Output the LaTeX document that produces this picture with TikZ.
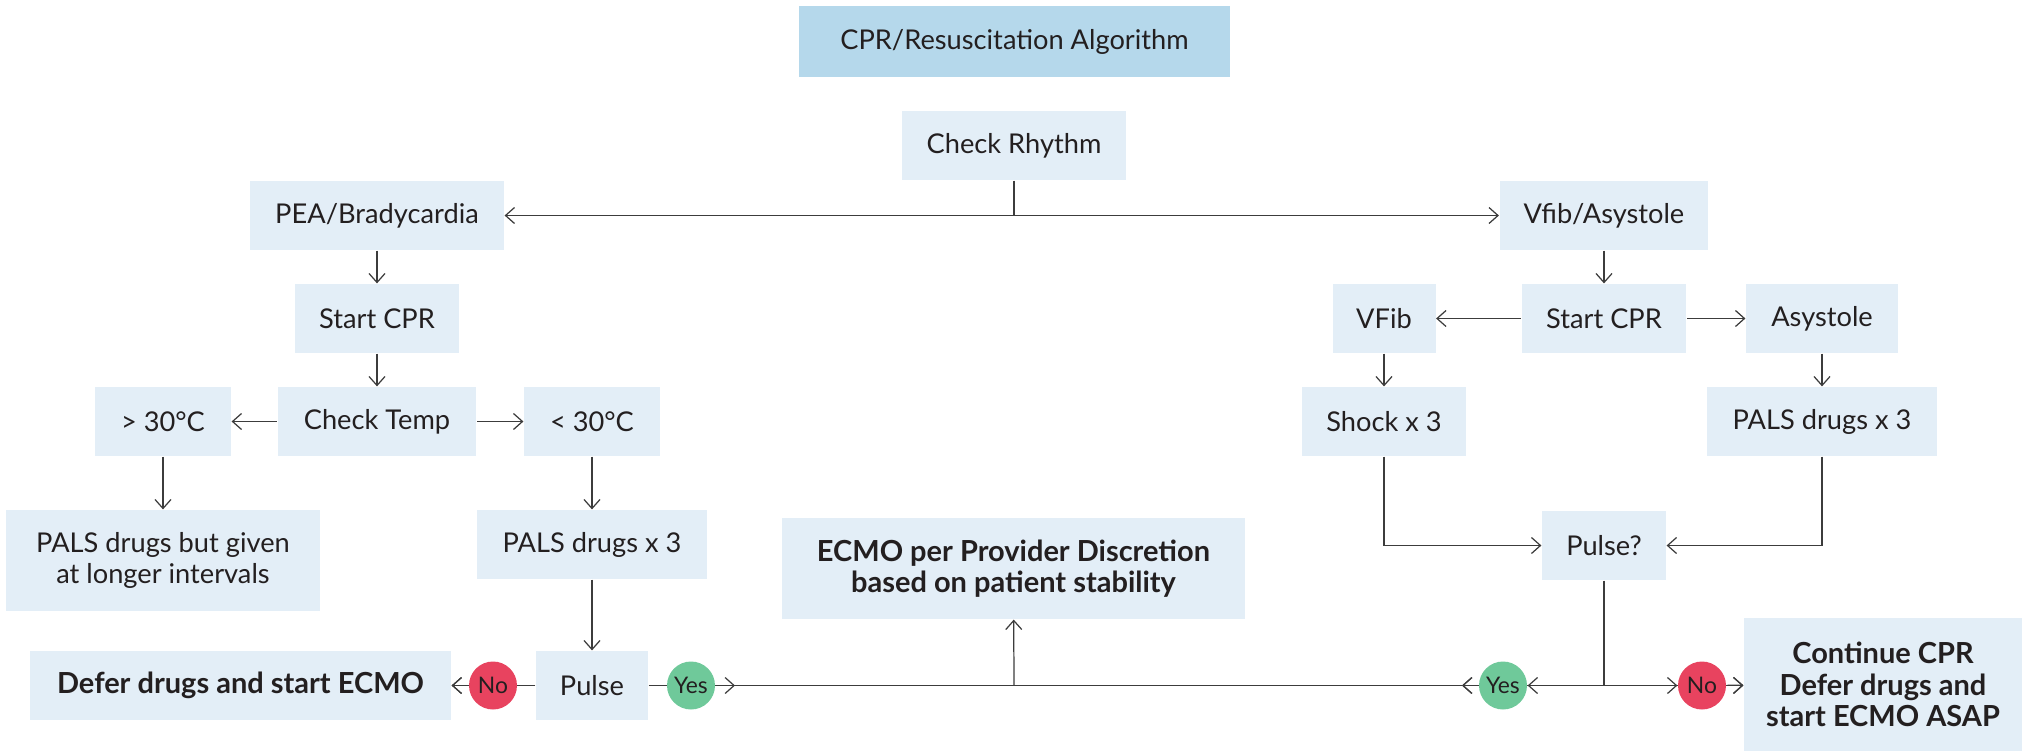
\documentclass[tikz,border=0pt]{standalone}
\usepackage{fontspec}
\setmainfont{Lato}
\usetikzlibrary{arrows.meta}
\definecolor{boxblue}{HTML}{E3EEF7}
\definecolor{headblue}{HTML}{B5D8EB}
\definecolor{ink}{HTML}{231F20}
\definecolor{wire}{HTML}{3C3C3C}
\definecolor{nored}{HTML}{E8435F}
\definecolor{yesgreen}{HTML}{6FC99A}
\begin{document}
\begin{tikzpicture}[x=0.02cm,y=-0.02cm,line width=0.7pt,color=wire,
  box/.style={fill=boxblue,text=ink,align=center,inner sep=0pt,minimum height=1.38cm,font=\fontsize{15.5}{18}\selectfont},
  bbox/.style={box,font=\fontsize{16.5}{18}\selectfont\bfseries},
  dot/.style={circle,minimum size=0.96cm,inner sep=0pt,text=ink,font=\fontsize{13}{15}\selectfont},
  >={Straight Barb[length=0.18cm,width=0.32cm]}]
\useasboundingbox (0,0) rectangle (2023,751);
\node[box,fill=headblue,minimum width=8.62cm,minimum height=1.42cm] (title) at (1014.5,41.5) {CPR/Resuscitation Algorithm};
\node[box,minimum width=4.48cm] (rhythm) at (1014,145.5) {Check Rhythm};
\node[box,minimum width=5.08cm] (pea) at (377,215.5) {PEA/Bradycardia};
\node[box,minimum width=4.18cm] (vfa) at (1604,215.5) {Vfib/Asystole};
\node[box,minimum width=3.3cm] (cprL) at (377,318.5) {Start CPR};
\node[box,minimum width=3.3cm] (cprR) at (1604,318.5) {Start CPR};
\node[box,minimum width=2.06cm] (vfib) at (1384,318.5) {VFib};
\node[box,minimum width=3.04cm] (asys) at (1822,318.5) {Asystole};
\node[box,minimum width=3.98cm] (temp) at (377,421.5) {Check Temp};
\node[box,minimum width=2.72cm] (hot) at (163,421.5) {> 30°C};
\node[box,minimum width=2.72cm] (cold) at (592,421.5) {< 30°C};
\node[box,minimum width=3.28cm] (shock) at (1384,421.5) {Shock x 3};
\node[box,minimum width=4.6cm] (palsR) at (1822,421.5) {PALS drugs x 3};
\node[box,minimum width=6.28cm,minimum height=2.02cm] (given) at (163,560.5) {PALS drugs but given\\at longer intervals};
\node[box,minimum width=4.6cm] (palsL) at (592,544.5) {PALS drugs x 3};
\node[box,minimum width=2.48cm] (pulseQ) at (1604,545.5) {Pulse?};
\node[bbox,minimum width=9.26cm,minimum height=2.02cm] (ecmo) at (1013.5,568.5) {ECMO per Provider Discretion\\based on patient stability};
\node[box,minimum width=2.24cm] (pulseL) at (592,685.5) {Pulse};
\node[bbox,minimum width=8.42cm] (defer) at (240.5,685.5) {Defer drugs and start ECMO};
\node[bbox,minimum width=5.56cm,minimum height=2.66cm] (cont) at (1883,684.5) {Continue CPR\\Defer drugs and\\start ECMO ASAP};
\coordinate (jL) at (735,685.5); \coordinate (jM) at (1014,685.5);
\coordinate (jR) at (1462,685.5); \coordinate (jQ) at (1604,685.5);

\draw (rhythm) -- (rhythm |- pea); \draw[<->] (pea) -- (vfa);
\draw[->] (pea) -- (cprL); \draw[->] (cprL) -- (temp);
\draw[->] (temp) -- (hot); \draw[->] (temp) -- (cold);
\draw[->] (hot) -- (given); \draw[->] (cold) -- (palsL); \draw[->] (palsL) -- (pulseL);
\draw[->] (vfa) -- (cprR); \draw[->] (cprR) -- (vfib); \draw[->] (cprR) -- (asys);
\draw[->] (vfib) -- (shock); \draw[->] (asys) -- (palsR);
\draw[->] (shock) |- (pulseQ); \draw[->] (palsR) |- (pulseQ);
\draw (pulseL) -- (jL) (jL) -- (jR) (pulseQ) -- (jQ);
\draw[->] (jM) -- (ecmo);
\draw[->] (pulseL) -- (defer);
\draw[->] (jQ) -- (cont.west |- jQ);
\draw[->] (jQ) -- (jR);
\node[dot,fill=nored] (noL) at (493,685.5) {No};
\node[dot,fill=yesgreen] (yesL) at (691,685.5) {Yes};
\node[dot,fill=yesgreen] (yesR) at (1503,685.5) {Yes};
\node[dot,fill=nored] (noR) at (1702,685.5) {No};
\draw[->] (yesL) -- (jL); \draw[->] (noL) -- (defer);
\draw[->] (jQ) -- (yesR); \draw[->] (yesR) -- (jR);
\draw[->] (jQ) -- (noR); \draw[->] (noR) -- (cont);
\end{tikzpicture}
\end{document}
